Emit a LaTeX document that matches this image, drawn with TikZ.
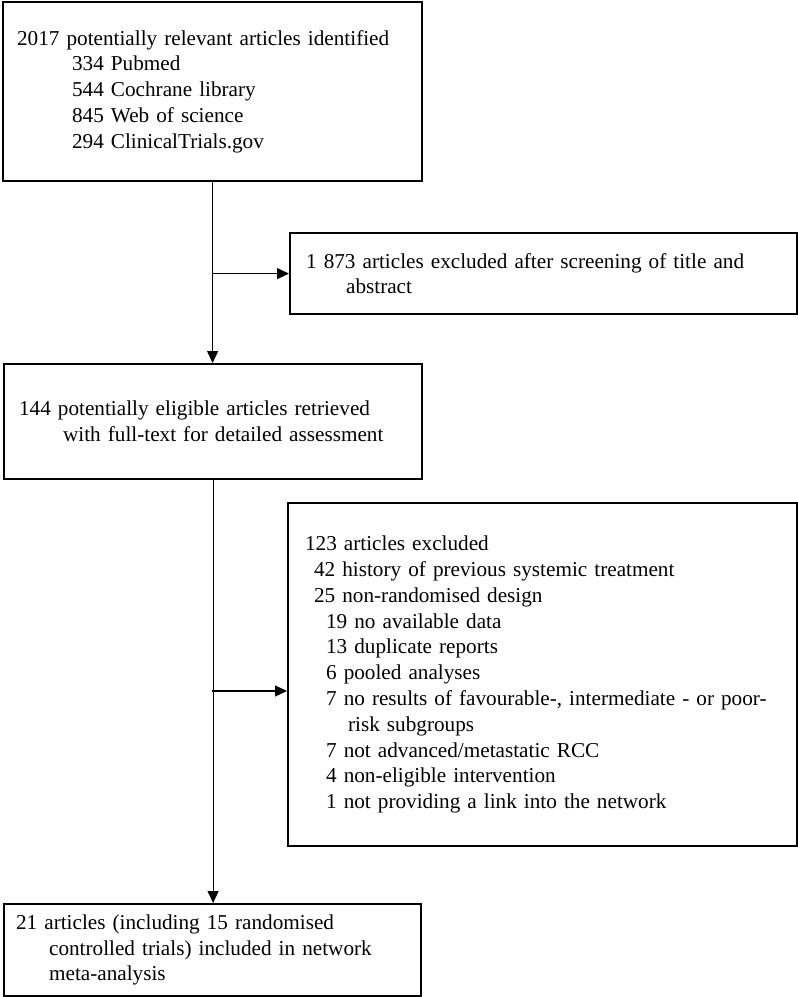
\documentclass[tikz,border=0pt]{standalone}
\usepackage{fontspec}
\setmainfont{Liberation Serif}
\usetikzlibrary{arrows.meta}
\tikzset{
    stagebox/.style={draw, line width=2.2pt, anchor=north west, align=left,
        inner ysep=0pt, font=\fontsize{21.2}{25.8}\selectfont},
    flowarrow/.style={line width=1.2pt, -{Triangle[length=12pt,width=11pt]}}
}

\begin{document}
\begin{tikzpicture}[x=1pt,y=-1pt]
    \useasboundingbox (0,0) rectangle (798,997);
    \node[stagebox, inner xsep=14pt, text width=391pt, minimum height=179pt] (ident) at (2,1)
        {2017 potentially relevant articles identified\\
         \hspace*{55pt}334 Pubmed\\
         \hspace*{55pt}544 Cochrane library\\
         \hspace*{55pt}845 Web of science\\
         \hspace*{55pt}294 ClinicalTrials.gov};
    \node[stagebox, inner xsep=16pt, text width=475pt, minimum height=81pt] (screen) at (289,232)
        {1 873 articles excluded after screening of title and\\
         \hspace*{40pt}abstract};
    \node[stagebox, inner xsep=15pt, text width=388pt, minimum height=115pt] (fulltext) at (3,363)
        {144 potentially eligible articles retrieved\\
         \hspace*{44pt}with full-text for detailed assessment};
    \node[stagebox, inner xsep=17pt, text width=475pt, minimum height=343pt] (excl) at (287,502)
        {123 articles excluded\\
         \hspace*{9pt}42 history of previous systemic treatment\\
         \hspace*{9pt}25 non-randomised design\\
         \hspace*{21pt}19 no available data\\
         \hspace*{21pt}13 duplicate reports\\
         \hspace*{21pt}6 pooled analyses\\
         \hspace*{21pt}7 no results of favourable-, intermediate - or poor-\\
         \hspace*{43pt}risk subgroups\\
         \hspace*{21pt}7 not advanced/metastatic RCC\\
         \hspace*{21pt}4 non-eligible intervention\\
         \hspace*{21pt}1 not providing a link into the network};
    \node[stagebox, inner xsep=12pt, text width=393pt, minimum height=92pt] (incl) at (3,903)
        {21 articles (including 15 randomised\\
         \hspace*{33pt}controlled trials) included in network\\
         \hspace*{33pt}meta-analysis};

    \coordinate (tap) at (211.5,691);
    \draw[flowarrow] (ident.south) -- (ident.south |- fulltext.north);
    \draw[flowarrow] (ident.south |- screen.west) -- (screen.west);
    \draw[flowarrow] (fulltext.south) -- (fulltext.south |- incl.north);
    \draw[flowarrow] (tap) -- (tap -| excl.west);
\end{tikzpicture}
\end{document}
